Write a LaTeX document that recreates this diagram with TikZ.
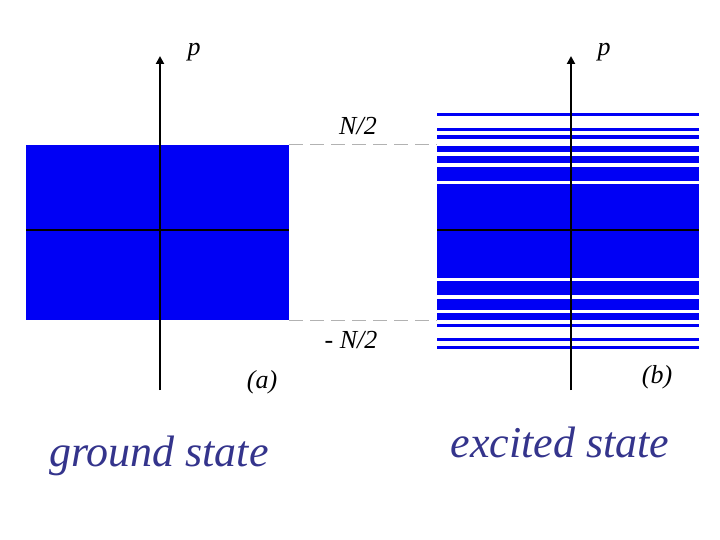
\documentclass[tikz,border=0pt]{standalone}
\usepackage{fontspec}
\setmainfont{Liberation Serif}
\usepackage{tikz}
\usetikzlibrary{arrows.meta, positioning}
\definecolor{fillblue}{RGB}{0,0,245}
\definecolor{textblue}{RGB}{52,52,140}
\tikzset{
  axis/.style={line width=2.2pt, -{Triangle[length=8pt,width=8pt]}},
  flat/.style={line width=2.2pt},
  guide/.style={gray!60, line width=1pt, dash pattern=on 14pt off 7pt},
  lbl/.style={font=\fontsize{26}{30}\selectfont\itshape, inner sep=0pt},
  big/.style={font=\fontsize{44}{50}\selectfont\itshape, text=textblue, inner sep=0pt}
}
\begin{document}
\begin{tikzpicture}[x=1pt,y=-1pt]
      \useasboundingbox (0,0) rectangle (720,540);
      % (a) ground state
      \fill[fillblue] (26,145) rectangle (289,320);
      \coordinate (a_bot) at (160,390);
      \coordinate (a_top) at (160,56);
      \coordinate (a_l) at (26,230);
      \coordinate (a_r) at (289,230);
      \draw[flat] (a_l) -- (a_r);
      \draw[axis] (a_bot) -- (a_top);
      \node[lbl] (p_a) at (194,52) {p};
      \node[lbl] (lab_a) at (262,382) {(a)};
      \node[big] (ground) at (159,456) {ground state};
      % (b) excited state
      \foreach \t/\b in {113/116, 128/131, 135/139, 146/152, 156/163, 167/181,
                        184/278, 281/295, 299/310, 313/320, 324/327, 338/341, 346/349}
        \fill[fillblue] (437,\t) rectangle (699,\b);
      \coordinate (b_bot) at (571,390);
      \coordinate (b_top) at (571,56);
      \coordinate (b_l) at (437,230);
      \coordinate (b_r) at (699,230);
      \draw[flat] (b_l) -- (b_r);
      \draw[axis] (b_bot) -- (b_top);
      \node[lbl] (p_b) at (604,52) {p};
      \node[lbl] (lab_b) at (657,377) {(b)};
      \node[big] (excited) at (560,442) {excited state};
      % levels
      \coordinate (top_a) at (289,145);
      \coordinate (top_b) at (437,145);
      \coordinate (bot_a) at (289,320);
      \coordinate (bot_b) at (437,320);
      \draw[guide] (top_a) -- (top_b);
      \draw[guide] (bot_a) -- (bot_b);
      \node[lbl] (plus) at (358,126) {N/2};
      \node[lbl] (minus) at (351,340) {- N/2};
    \end{tikzpicture}
\end{document}
